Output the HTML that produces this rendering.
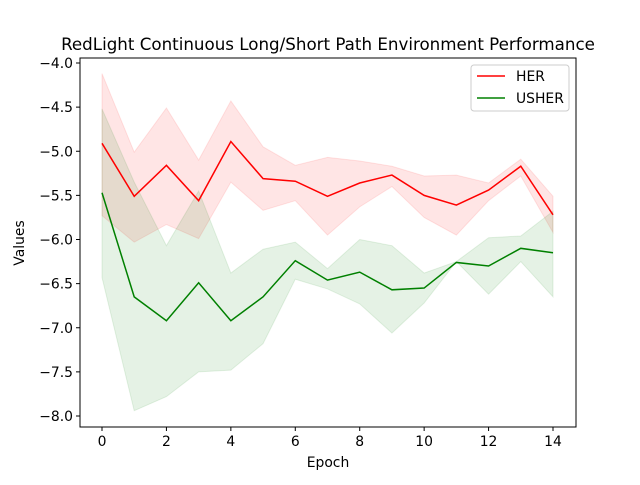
<!DOCTYPE html>
<html><head><meta charset="utf-8"><style>body{margin:0;background:#fff}svg{font-family:"DejaVu Sans","Liberation Sans",sans-serif}</style></head>
<body>
<svg id="c" width="640" height="480"></svg>
<script>
const epochs=[0,1,2,3,4,5,6,7,8,9,10,11,12,13,14];
const herMean=[-4.91,-5.51,-5.16,-5.56,-4.89,-5.31,-5.34,-5.51,-5.36,-5.27,-5.50,-5.61,-5.44,-5.17,-5.72];
const herUpper=[-4.12,-5.01,-4.51,-5.10,-4.43,-4.95,-5.16,-5.07,-5.11,-5.17,-5.28,-5.27,-5.36,-5.09,-5.51];
const herLower=[-5.73,-6.03,-5.83,-5.99,-5.35,-5.67,-5.56,-5.95,-5.63,-5.40,-5.75,-5.95,-5.56,-5.28,-5.92];
const usherMean=[-5.47,-6.65,-6.92,-6.49,-6.92,-6.65,-6.24,-6.46,-6.37,-6.57,-6.55,-6.26,-6.30,-6.10,-6.15];
const usherUpper=[-4.52,-5.35,-6.07,-5.45,-6.38,-6.11,-6.03,-6.33,-6.00,-6.07,-6.38,-6.25,-5.98,-5.96,-5.68];
const usherLower=[-6.43,-7.94,-7.78,-7.50,-7.48,-7.18,-6.45,-6.56,-6.73,-7.06,-6.72,-6.25,-6.62,-6.25,-6.65];
const xTicks=[0,2,4,6,8,10,12,14];
const yTicks=[-4.0,-4.5,-5.0,-5.5,-6.0,-6.5,-7.0,-7.5,-8.0];
const L=80,R=576,T=58,B=427;
const X=v=>102+v*(553-102)/14;
const Y=v=>63+(-4-v)*88.25;
const svg=document.getElementById('c');
const NS='http://www.w3.org/2000/svg';
function mk(tag,attrs,parent){const e=document.createElementNS(NS,tag);for(const k in attrs)e.setAttribute(k,attrs[k]);(parent||svg).appendChild(e);return e;}
let t=mk('text',{x:328,y:50,'text-anchor':'middle','font-size':16.7});t.textContent='RedLight Continuous Long/Short Path Environment Performance';


function band(up,lo,color,name){
 let d='M'+epochs.map((e,i)=>X(e)+','+Y(up[i])).join('L');
 d+='L'+epochs.slice().reverse().map((e,j)=>{const i=epochs.length-1-j;return X(e)+','+Y(lo[i]);}).join('L')+'Z';
 const p=mk('path',{d:d,fill:color,'fill-opacity':0.1,stroke:color,'stroke-opacity':0.1});
 
 
}
function line(m,color,name){
 const p=mk('polyline',{points:epochs.map((e,i)=>X(e)+','+Y(m[i])).join(' '),fill:'none',stroke:color,'stroke-width':1.5});
 
 
}
band(herUpper,herLower,'red','her-band');
band(usherUpper,usherLower,'green','usher-band');
line(herMean,'red','her-line');
line(usherMean,'green','usher-line');
const fr=mk('rect',{x:L,y:T,width:R-L,height:B-T,fill:'none',stroke:'#000','stroke-width':1});


xTicks.forEach(v=>{mk('line',{x1:X(v),x2:X(v),y1:B,y2:B+4,stroke:'#000'});
 const tx=mk('text',{x:X(v),y:B+19,'text-anchor':'middle','font-size':13.9});tx.textContent=v;
 
 });
yTicks.forEach(v=>{mk('line',{x1:L-4,x2:L,y1:Y(v),y2:Y(v),stroke:'#000'});
 const tx=mk('text',{x:L-7,y:Y(v)+5,'text-anchor':'end','font-size':13.9});tx.textContent=v.toFixed(1).replace('-','\u2212');
 
 });
t=mk('text',{x:328,y:467,'text-anchor':'middle','font-size':13.9});t.textContent='Epoch';


t=mk('text',{x:24,y:243,'text-anchor':'middle','font-size':13.9,transform:'rotate(-90 24 243)'});t.textContent='Values';


const lg=mk('g',{});


mk('rect',{x:471,y:65,width:98,height:46,rx:3,fill:'#fff','fill-opacity':0.8,stroke:'#ccc'},lg);
[['HER','red',76],['USHER','green',98]].forEach(([n,c,y])=>{
 mk('line',{x1:477,x2:505,y1:y,y2:y,stroke:c,'stroke-width':1.5},lg);
 const tx=mk('text',{x:516,y:y+5,'font-size':13.9},lg);tx.textContent=n;
 
 
});
</script>
</body></html>
